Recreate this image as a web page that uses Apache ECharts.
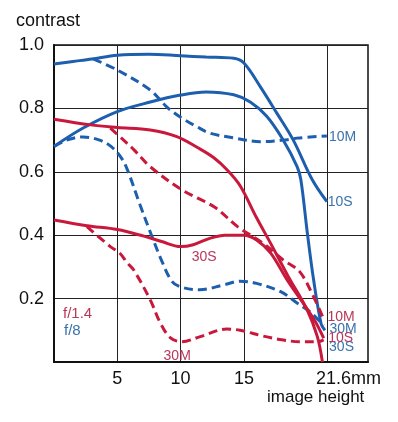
<!DOCTYPE html>
<html>
<head>
<meta charset="utf-8">
<title>contrast - image height</title>
<script src="https://cdn.jsdelivr.net/npm/echarts@6/dist/echarts.min.js"></script>
<style>
  *{margin:0;padding:0;}
  body{background:#fff;overflow:hidden;}
  #main{width:398px;height:422px;}
</style>
</head>
<body>
<div id="main"></div>
<script>
// image height in mm where the grid lines and labels sit
var xTicks = [5, 10, 15, 21.6];

// f/8 (blue)
var blue10S = [[0,0.94],[1.5,0.948],[3,0.956],[5,0.968],[7.5,0.971],[10,0.966],[12,0.962],[14.2,0.958],[15,0.943],[16.3,0.868],[17.6,0.785],[18.9,0.70],[20.4,0.575],[21.55,0.506]];
var blue10M = [[3.1,0.956],[5,0.921],[7.6,0.858],[8.9,0.805],[10,0.772],[11.3,0.742],[12.3,0.722],[14.2,0.707],[16.3,0.695],[18.1,0.70],[19.4,0.707],[21.55,0.713]];
var blue30S = [[0,0.68],[2.3,0.738],[5,0.79],[7.6,0.82],[10,0.842],[12,0.852],[14.2,0.843],[15.5,0.82],[16.8,0.775],[18.1,0.70],[19.2,0.616],[19.5,0.574],[20,0.41],[20.5,0.26],[21.1,0.12],[21.4,0.10]];
var blue30M = [[0,0.68],[1,0.70],[2.3,0.71],[3.6,0.70],[4.5,0.68],[5.3,0.645],[5.8,0.606],[6.8,0.495],[7.7,0.40],[8.5,0.32],[9.3,0.255],[10,0.237],[11.5,0.228],[13.4,0.243],[14.7,0.255],[16,0.248],[17.9,0.222],[19.2,0.186],[20.2,0.159],[21.3,0.115]];

// f/1.4 (red)
var red10S = [[0,0.766],[2.9,0.748],[5,0.74],[7.6,0.732],[9.7,0.711],[11.4,0.675],[12.6,0.645],[13.7,0.605],[14.7,0.556],[16,0.455],[17.1,0.375],[18.5,0.27],[20,0.164],[20.8,0.08],[21.2,0.0]];
var red10M = [[4.45,0.738],[5.5,0.70],[6.3,0.67],[7.6,0.616],[10.1,0.543],[12.7,0.488],[14.5,0.427],[16.5,0.375],[18.1,0.322],[19.4,0.285],[20.5,0.206],[21.3,0.135]];
var red30S = [[0,0.448],[2.6,0.43],[5,0.418],[7.1,0.397],[8.5,0.38],[10,0.364],[11,0.37],[12.3,0.39],[13.5,0.40],[15,0.40],[16,0.385],[17.1,0.344],[18.4,0.26],[19.6,0.19],[20.6,0.13],[21.3,0.075]];
var red30M = [[2.6,0.427],[4.45,0.364],[5.2,0.343],[5.8,0.312],[6.3,0.29],[7.6,0.196],[8.4,0.123],[9.2,0.076],[10.1,0.064],[11.55,0.08],[13.65,0.104],[14.7,0.10],[16.5,0.082],[18,0.07],[19.4,0.064],[20.8,0.064],[21.3,0.07]];

var BLUE = '#1d5fae', RED = '#c8193c';
var BLUE_TXT = '#3a72ad', RED_TXT = '#b8385a';
var FONT = 'Liberation Sans';

function curve(name, data, color, dashed, label) {
    var s = {
        name: name,
        type: 'line',
        data: data,
        smooth: 0.35,
        symbol: 'none',
        lineStyle: { color: color, width: 3, type: dashed ? [9, 5] : 'solid' },
        z: 3
    };
    if (label) {
        s.markPoint = {
            silent: true,
            symbol: 'circle',
            symbolSize: 1,
            itemStyle: { color: 'rgba(0,0,0,0)' },
            label: {
                show: true, position: 'inside', formatter: label.text,
                color: label.color, fontSize: 14, fontFamily: FONT
            },
            data: [{ coord: label.at }]
        };
    }
    return s;
}

var myChart = echarts.init(document.getElementById('main'));
var option = {
    backgroundColor: '#fff',
    animation: false,
    grid: {
        left: 54, top: 45, width: 314, height: 317,
        show: true, borderColor: '#111', borderWidth: 1.5
    },
    xAxis: {
        type: 'value',
        min: 0,
        max: 24.8,
        axisLine: { show: true, lineStyle: { color: '#111', width: 2 } },
        axisTick: { show: false, customValues: xTicks },
        splitLine: { show: true, lineStyle: { color: '#222', width: 1 } },
        axisLabel: {
            customValues: xTicks,
            margin: 8,
            color: '#111',
            fontSize: 18,
            fontFamily: FONT,
            formatter: function (v) { return v === 21.6 ? '{m|21.6mm}' : String(v); },
            rich: { m: { fontSize: 18, fontFamily: FONT, color: '#111', padding: [0, 0, 0, 42] } }
        }
    },
    yAxis: {
        type: 'value',
        min: 0,
        max: 1,
        interval: 0.2,
        axisLine: { show: true, lineStyle: { color: '#111', width: 2 } },
        axisTick: { show: false },
        splitLine: { show: true, lineStyle: { color: '#222', width: 1 } },
        axisLabel: {
            margin: 10,
            color: '#111',
            fontSize: 18,
            fontFamily: FONT,
            formatter: function (v) { return v === 0 ? '' : v.toFixed(1); }
        }
    },
    graphic: [
        { type: 'text', left: 16, top: 12, style: { text: 'contrast', fontSize: 18, fontFamily: FONT, fill: '#111' } },
        { type: 'text', left: 267, top: 389, style: { text: 'image height', fontSize: 17, fontFamily: FONT, fill: '#111' } },
        { type: 'text', left: 63, top: 306, style: { text: 'f/1.4', fontSize: 15, fontFamily: FONT, fill: RED_TXT } },
        { type: 'text', left: 64, top: 323, style: { text: 'f/8', fontSize: 15, fontFamily: FONT, fill: BLUE_TXT } }
    ],
    series: [
        curve('f/8 10S', blue10S, BLUE, false, { text: '10S', color: BLUE_TXT, at: [22.6, 0.505] }),
        curve('f/8 10M', blue10M, BLUE, true, { text: '10M', color: BLUE_TXT, at: [22.79, 0.71] }),
        curve('f/8 30S', blue30S, BLUE, false, { text: '30S', color: BLUE_TXT, at: [22.71, 0.047] }),
        curve('f/8 30M', blue30M, BLUE, true, { text: '30M', color: BLUE_TXT, at: [22.83, 0.104] }),
        curve('f/1.4 10S', red10S, RED, false, { text: '10S', color: RED_TXT, at: [22.64, 0.076] }),
        curve('f/1.4 10M', red10M, RED, true, { text: '10M', color: RED_TXT, at: [22.68, 0.142] }),
        curve('f/1.4 30S', red30S, RED, false, { text: '30S', color: RED_TXT, at: [11.86, 0.331] }),
        curve('f/1.4 30M', red30M, RED, true, { text: '30M', color: RED_TXT, at: [9.73, 0.019] })
    ]
};
myChart.setOption(option);
</script>
</body>
</html>
